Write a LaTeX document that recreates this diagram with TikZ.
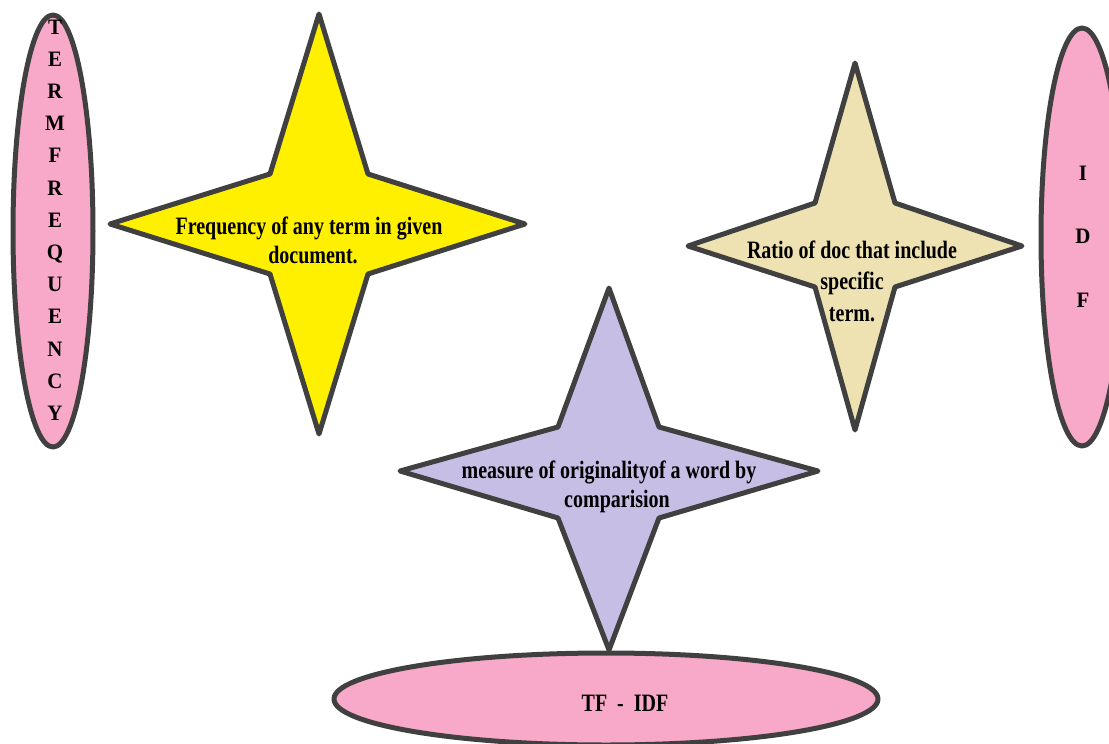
\documentclass[tikz,border=0pt]{standalone}
\usepackage{fontspec}
\newfontfamily\lblfont{Liberation Serif}[FakeStretch=0.8]
\newfontfamily\letfont{Liberation Serif}[FakeStretch=0.95]
\usetikzlibrary{shapes.geometric}
\definecolor{pinkfill}{RGB}{248,168,200}
\definecolor{yellowfill}{RGB}{255,240,0}
\definecolor{tanfill}{RGB}{238,226,178}
\definecolor{lavfill}{RGB}{198,190,228}
\definecolor{outline}{RGB}{64,64,64}
\tikzset{
  shapeline/.style={draw=outline, line width=5pt, line join=round},
  pinkoval/.style={shapeline, fill=pinkfill, ellipse, inner sep=0pt},
  lbl/.style={font=\lblfont\bfseries\fontsize{25}{29}\selectfont, align=center, inner sep=0pt, text=black},
  letters/.style={align=center, inner sep=0pt, text=black},
}
\begin{document}
\begin{tikzpicture}[x=1pt,y=-1pt]
\useasboundingbox (0,0) rectangle (1109,744);
% left ellipse
\node[pinkoval, minimum width=80pt, minimum height=432pt] (tf) at (53,231) {};
\node[letters, font=\letfont\bfseries\fontsize{22}{32.2}\selectfont] (tftext) at (55,220)
  {T\\E\\R\\M\\F\\R\\E\\Q\\U\\E\\N\\C\\Y};
% right ellipse
\node[pinkoval, minimum width=82pt, minimum height=418pt] (idf) at (1082,237) {};
\node[letters, font=\letfont\bfseries\fontsize{22}{63.5}\selectfont] (idftext) at (1083,236.5)
  {I\\D\\F};
% yellow star
\draw[shapeline, fill=yellowfill]
  (319,14) -- (368,174) -- (525,224) -- (368,274) -- (319,434)
  -- (270,274) -- (110,224) -- (270,174) -- cycle;
\node[lbl] (ytext) at (309,240) {Frequency of any term in given\\\hspace*{8pt}document.};
% tan star
\draw[shapeline, fill=tanfill]
  (855,63) -- (895,203) -- (1022,246) -- (895,287) -- (855,430)
  -- (815,287) -- (688,246) -- (815,203) -- cycle;
\node[lbl, font=\lblfont\bfseries\fontsize{25}{31.5}\selectfont] (ttext) at (852,281)
  {Ratio of doc that include\\specific\\term.};
% TF-IDF ellipse
\node[pinkoval, minimum width=544pt, minimum height=92pt] (tfidf) at (606,699) {};
% purple star
\draw[shapeline, fill=lavfill]
  (609,288) -- (659,427) -- (818,471) -- (659,518) -- (609,650)
  -- (558,518) -- (400,471) -- (558,427) -- cycle;
\node[lbl] (ptext) at (609,487) {measure of originalityof a word by\\\hspace*{16pt}comparision};
\node[lbl] (tfidftext) at (625,703) {TF\ \ -\ \ IDF};
\end{tikzpicture}
\end{document}
